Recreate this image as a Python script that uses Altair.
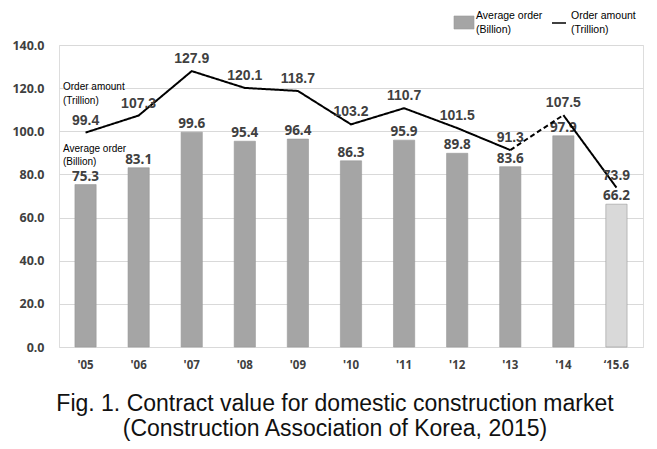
import altair as alt
import pandas as pd

cats = ["'05", "'06", "'07", "'08", "'09", "'10", "'11", "'12", "'13", "'14", "‘15.6"]
avg_order = [75.3, 83.1, 99.6, 95.4, 96.4, 86.3, 95.9, 89.8, 83.6, 97.9, 66.2]
order_amount = [99.4, 107.3, 127.9, 120.1, 118.7, 103.2, 110.7, 101.5, 91.3, 107.5, 73.9]
bar_status = ["full"] * 10 + ["partial"]
# line segments: (segment id, style, category indices)
segments = [("a", "solid", list(range(0, 9))), ("b", "dashed", [8, 9]), ("c", "solid", [9, 10])]

NARROW = "Liberation Sans, Arial, sans-serif"
ROUND = "Noto Sans, Open Sans, sans-serif"
LABEL = "#404040"

bars_df = pd.DataFrame({"cat": cats, "avg": avg_order, "status": bar_status})
pts_df = pd.DataFrame({"cat": cats, "amt": order_amount})
rows = []
for sid, style, idxs in segments:
    for i in idxs:
        rows.append({"cat": cats[i], "amt": order_amount[i], "seg": sid, "style": style, "ord": i})
line_df = pd.DataFrame(rows)

x = alt.X("cat:N", sort=cats,
          scale=alt.Scale(domain=cats, paddingInner=0.6, paddingOuter=0.3),
          axis=alt.Axis(title=None, labelAngle=0, ticks=False, domain=False, grid=False,
                        labelFont=ROUND, labelFontWeight="bold", labelFontSize=11.5,
                        labelColor=LABEL, labelPadding=12))
yscale = alt.Scale(domain=[0, 140], nice=False)
yaxis = alt.Axis(title=None, values=[0, 20, 40, 60, 80, 100, 120, 140], format=".1f",
                 ticks=False, domain=False, grid=True, gridColor="#d9d9d9", gridWidth=1,
                 labelFont=ROUND, labelFontWeight="bold", labelFontSize=12.5,
                 labelColor=LABEL, labelPadding=15)

bars = alt.Chart(bars_df).mark_bar(stroke="#999999", strokeWidth=0.6).encode(
    x=x,
    y=alt.Y("avg:Q", scale=yscale, axis=yaxis),
    fill=alt.Fill("status:N", scale=alt.Scale(domain=["full", "partial"], range=["#a5a5a5", "#d9d9d9"]), legend=None),
)
bar_text = alt.Chart(bars_df).mark_text(baseline="bottom", dy=-1, font=ROUND, fontWeight="bold",
                                        fontSize=13.5, color=LABEL).encode(
    x=alt.X("cat:N", sort=cats), y=alt.Y("avg:Q"), text=alt.Text("avg:Q", format=".1f"))

line = alt.Chart(line_df).mark_line(color="black", strokeWidth=2).encode(
    x=alt.X("cat:N", sort=cats),
    y=alt.Y("amt:Q"),
    detail="seg:N",
    order="ord:Q",
    strokeDash=alt.StrokeDash("style:N", scale=alt.Scale(domain=["solid", "dashed"], range=[[1, 0], [5, 3]]), legend=None),
)
line_text = alt.Chart(pts_df).mark_text(baseline="bottom", dy=-5, font=NARROW, fontWeight="bold",
                                        fontSize=14, color=LABEL).encode(
    x=alt.X("cat:N", sort=cats), y=alt.Y("amt:Q"), text=alt.Text("amt:Q", format=".1f"))

one = pd.DataFrame({"k": [0]})
# legend
leg_rect = alt.Chart(one).mark_rect(color="#a5a5a5", stroke="#999999", strokeWidth=0.6).encode(
    x=alt.value(395), x2=alt.value(415), y=alt.value(-29), y2=alt.value(-16))
leg_line = alt.Chart(one).mark_rule(color="black", strokeWidth=1.5).encode(
    x=alt.value(493), x2=alt.value(507), y=alt.value(-22))
leg_t1 = alt.Chart(one).mark_text(align="left", baseline="middle", font=NARROW, fontSize=10.5,
                                  color="black", lineHeight=13.5).encode(
    x=alt.value(417), y=alt.value(-29), text=alt.value(["Average order", "(Billion)"]))
leg_t2 = alt.Chart(one).mark_text(align="left", baseline="middle", font=NARROW, fontSize=10.5,
                                  color="black", lineHeight=13.5).encode(
    x=alt.value(512), y=alt.value(-29), text=alt.value(["Order amount", "(Trillion)"]))
# annotations
ann1 = alt.Chart(one).mark_text(align="left", baseline="middle", font=NARROW, fontSize=10,
                                color="black", lineHeight=14).encode(
    x=alt.value(4), y=alt.value(42), text=alt.value(["Order amount", "(Trillion)"]))
ann2 = alt.Chart(one).mark_text(align="left", baseline="middle", font=NARROW, fontSize=10,
                                color="black", lineHeight=13).encode(
    x=alt.value(4), y=alt.value(104), text=alt.value(["Average order", "(Billion)"]))
cap1 = alt.Chart(one).mark_text(align="center", baseline="alphabetic", font=NARROW, fontSize=23,
                                color="#111111").encode(
    x=alt.value(276), y=alt.value(366),
    text=alt.value("Fig. 1. Contract value for domestic construction market"))
cap2 = alt.Chart(one).mark_text(align="center", baseline="alphabetic", font=NARROW, fontSize=23,
                                color="#111111").encode(
    x=alt.value(276), y=alt.value(391),
    text=alt.value("(Construction Association of Korea, 2015)"))

chart = alt.layer(bars, bar_text, line, line_text, leg_rect, leg_line, leg_t1, leg_t2,
                  ann1, ann2, cap1, cap2).properties(
    width=584, height=302,
    autosize=alt.AutoSizeParams(type="none"),
    padding={"left": 51, "top": 37, "right": 6, "bottom": 94},
).configure_view(stroke=None).configure(background="white")

chart.save("out.html", embed_options={"renderer": "svg", "actions": False})
